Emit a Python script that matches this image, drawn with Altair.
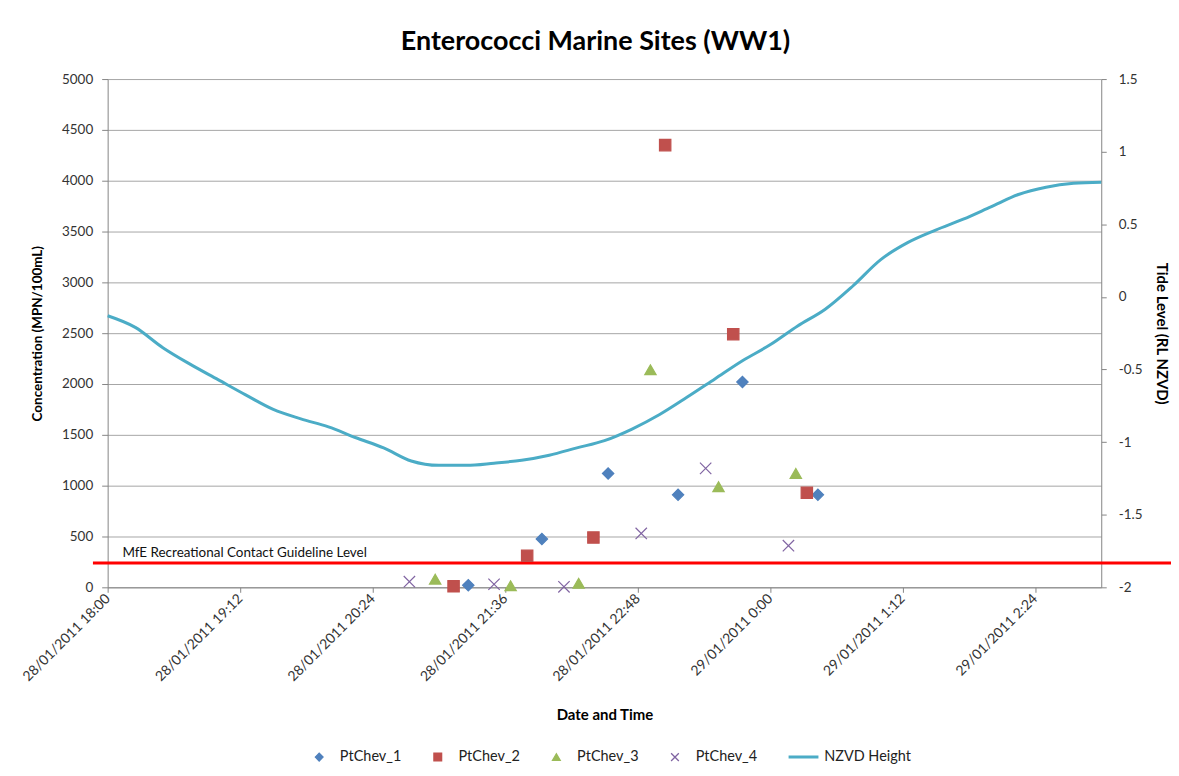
import altair as alt
import pandas as pd

TITLE = "Enterococci Marine Sites (WW1)"
SERIES = ["PtChev_1", "PtChev_2", "PtChev_3", "PtChev_4", "NZVD Height"]
COLORS = ["#4F81BD", "#C0504D", "#9BBB59", "#8064A2", "#4BACC6"]
SHAPES = ["diamond", "square", "triangle-up", "M-1,-1L1,1M-1,1L1,-1",
          "M-3.7,-0.22L3.7,-0.22L3.7,0.22L-3.7,0.22Z"]

P1_TIME = ["2011-01-28 21:16", "2011-01-28 21:56", "2011-01-28 22:32",
           "2011-01-28 23:10", "2011-01-28 23:45", "2011-01-29 00:26"]
P1_VAL = [20, 475, 1120, 910, 2020, 910]
P2_TIME = ["2011-01-28 21:08", "2011-01-28 21:48", "2011-01-28 22:24",
           "2011-01-28 23:03", "2011-01-28 23:40", "2011-01-29 00:20"]
P2_VAL = [10, 310, 490, 4350, 2490, 930]
P3_TIME = ["2011-01-28 20:58", "2011-01-28 21:39", "2011-01-28 22:16",
           "2011-01-28 22:55", "2011-01-28 23:32", "2011-01-29 00:14"]
P3_VAL = [80, 15, 40, 2140, 990, 1120]
P4_TIME = ["2011-01-28 20:44", "2011-01-28 21:30", "2011-01-28 22:08",
           "2011-01-28 22:50", "2011-01-28 23:25", "2011-01-29 00:10"]
P4_VAL = [55, 30, 5, 530, 1170, 410]

TIDE_START = "2011-01-28 18:00"
TIDE_STEP = "15min"
TIDE_VAL = [-0.13, -0.21, -0.35, -0.465, -0.57, -0.675, -0.775, -0.84, -0.895,
            -0.97, -1.04, -1.13, -1.16, -1.16, -1.145, -1.125, -1.09, -1.04,
            -0.99, -0.91, -0.81, -0.69, -0.565, -0.44, -0.33, -0.20, -0.085,
            0.075, 0.255, 0.375, 0.46, 0.535, 0.62, 0.705, 0.755, 0.782, 0.79]

GUIDELINE = 240
GUIDE_LABEL = "MfE Recreational Contact Guideline Level"
GUIDE_SPAN = ["2011-01-28 17:52", "2011-01-29 03:40"]
GUIDE_LABEL_POS = ["2011-01-28 18:08", 335]

X_DOMAIN = ["2011-01-28 18:00", "2011-01-29 03:00"]
X_TICKS = ["2011-01-28 18:00", "2011-01-28 19:12", "2011-01-28 20:24",
           "2011-01-28 21:36", "2011-01-28 22:48", "2011-01-29 00:00",
           "2011-01-29 01:12", "2011-01-29 02:24"]
Y_LEFT_TICKS = list(range(0, 5001, 500))
Y_RIGHT_TICKS = [-2, -1.5, -1, -0.5, 0, 0.5, 1, 1.5]

FONT = "Lato"


def dt(s):
    t = pd.Timestamp(s)
    return alt.DateTime(year=t.year, month=t.month, date=t.day,
                        hours=t.hour, minutes=t.minute)


rows = []
for name, times, vals in [("PtChev_1", P1_TIME, P1_VAL), ("PtChev_2", P2_TIME, P2_VAL),
                          ("PtChev_3", P3_TIME, P3_VAL), ("PtChev_4", P4_TIME, P4_VAL)]:
    for t, v in zip(times, vals):
        rows.append({"series": name, "time": pd.Timestamp(t), "value": v})
points_df = pd.DataFrame(rows)

tide_df = pd.DataFrame({
    "time": pd.date_range(TIDE_START, periods=len(TIDE_VAL), freq=TIDE_STEP),
    "tide": TIDE_VAL,
    "series": "NZVD Height",
})

guide_df = pd.DataFrame({"label": [GUIDE_LABEL]})

legend = alt.Legend(title=None, orient="none", direction="horizontal",
                    legendX=205, legendY=673, symbolSize=60, symbolStrokeWidth=1.3,
                    labelOffset=13.5, columnPadding=29, labelFontSize=14.5,
                    labelFont=FONT, labelColor="#222")

x_enc = alt.X("time:T", title="Date and Time",
              scale=alt.Scale(domain=[dt(X_DOMAIN[0]), dt(X_DOMAIN[1])]),
              axis=alt.Axis(values=[dt(v) for v in X_TICKS], format="%d/%m/%Y %-H:%M",
                            labelAngle=315, labelAlign="right", labelBaseline="middle",
                            labelFontSize=14, grid=False, tickSize=5, labelPadding=4,
                            titlePadding=24, titleFontSize=15))

y_left = alt.Y("value:Q", title="Concentration (MPN/100mL)",
               scale=alt.Scale(domain=[0, 5000]),
               axis=alt.Axis(values=Y_LEFT_TICKS, format="d", grid=True, tickSize=6,
                             labelPadding=9, titlePadding=17, titleFontSize=13.5,
                             labelFontSize=13.5))

fill_scale = alt.Scale(domain=SERIES, range=COLORS)
shape_scale = alt.Scale(domain=SERIES, range=SHAPES)

points = alt.Chart(points_df).mark_point(filled=True, size=130, strokeWidth=1.2, opacity=1).encode(
    x=x_enc,
    y=y_left,
    fill=alt.Fill("series:N", scale=fill_scale, legend=legend),
    stroke=alt.Stroke("series:N", scale=fill_scale, legend=legend),
    shape=alt.Shape("series:N", scale=shape_scale, legend=legend),
)

rule = alt.Chart(guide_df).mark_rule(color="#FF0000", strokeWidth=3).encode(
    x=alt.datum(dt(GUIDE_SPAN[0])),
    x2=alt.datum(dt(GUIDE_SPAN[1])),
    y=alt.datum(GUIDELINE),
)

label = alt.Chart(guide_df).mark_text(align="left", baseline="middle", fontSize=13.5,
                                      font=FONT, color="#111").encode(
    x=alt.datum(dt(GUIDE_LABEL_POS[0])),
    y=alt.datum(GUIDE_LABEL_POS[1]),
    text="label:N",
)

left = alt.layer(rule, points, label)

line = alt.Chart(tide_df).mark_line(strokeWidth=3, interpolate="monotone").encode(
    x=x_enc,
    y=alt.Y("tide:Q", title="Tide Level (RL NZVD)",
            scale=alt.Scale(domain=[-2, 1.5]),
            axis=alt.Axis(orient="right", values=Y_RIGHT_TICKS, grid=False, tickSize=5,
                          labelExpr="toString(datum.value)", labelFontSize=13.5,
                          labelPadding=12, titlePadding=12, titleFontSize=15)),
    stroke=alt.Stroke("series:N", scale=fill_scale, legend=legend),
)

chart = alt.layer(left, line).resolve_scale(y="independent").properties(
    width=997, height=510,
    title=alt.TitleParams(TITLE, fontSize=27, font=FONT, fontWeight="bold",
                          color="#000", offset=16, dx=-9),
    autosize=alt.AutoSizeParams(type="none"),
    padding={"left": 100, "top": 70, "right": 70, "bottom": 180},
).configure_view(stroke=None).configure_axis(
    labelFont=FONT, labelColor="#333",
    titleFont=FONT, titleFontWeight="bold", titleColor="#000",
    domainColor="#868686", tickColor="#868686", gridColor="#A6A6A6",
)

chart.save("out.html", embed_options={"renderer": "svg", "actions": False})
